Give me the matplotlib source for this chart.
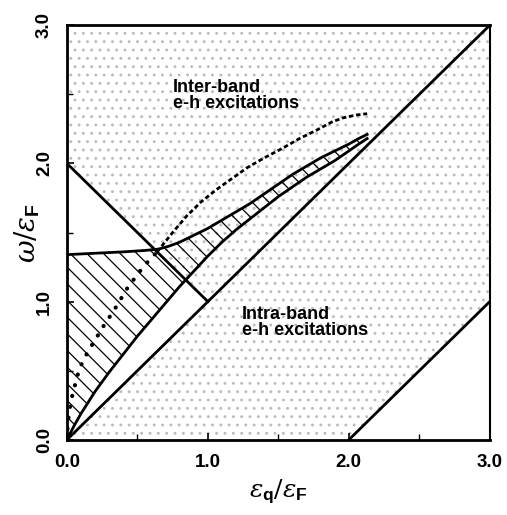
import matplotlib
matplotlib.use("Agg")
import matplotlib.pyplot as plt

plt.rcParams['font.family'] = ['Liberation Sans', 'DejaVu Sans']
plt.rcParams['mathtext.fontset'] = 'custom'
plt.rcParams['mathtext.rm'] = 'DejaVu Serif'
plt.rcParams['mathtext.it'] = 'DejaVu Serif:italic'
plt.rcParams['mathtext.bf'] = 'Liberation Sans:bold'
plt.rcParams['hatch.linewidth'] = 0.9

# ---- data ----
interband_x = [0.0, 0.0, 3.0, 1.0]
interband_y = [2.0, 3.0, 3.0, 1.0]
intraband_x = [0.0, 3.0, 3.0, 2.0]
intraband_y = [0.0, 3.0, 1.0, 0.0]
line_diag_x = [0.0, 3.0]
line_diag_y = [0.0, 3.0]
line_pauli_x = [0.0, 1.0]
line_pauli_y = [2.0, 1.0]
line_shift_x = [2.0, 3.0]
line_shift_y = [0.0, 1.0]

# plasmon band (hatched)
band_upper_x = [0.0, 0.2, 0.4, 0.55, 0.65, 0.72, 0.80, 0.90, 1.00, 1.10, 1.20,
                1.30, 1.40, 1.50, 1.60, 1.70, 1.80, 1.90, 2.00, 2.07, 2.13]
band_upper_y = [1.34, 1.35, 1.36, 1.37, 1.38, 1.40, 1.43, 1.48, 1.53, 1.59, 1.65,
                1.71, 1.78, 1.85, 1.92, 1.98, 2.04, 2.09, 2.14, 2.18, 2.21]
band_lower_x = [0.0, 0.05, 0.10, 0.20, 0.30, 0.40, 0.50, 0.60, 0.70, 0.80, 0.90,
                1.00, 1.10, 1.20, 1.30, 1.40, 1.50, 1.60, 1.70, 1.80, 1.90,
                2.00, 2.07, 2.13]
band_lower_y = [0.0, 0.10, 0.19, 0.35, 0.49, 0.62, 0.75, 0.87, 0.99, 1.11, 1.22,
                1.33, 1.43, 1.52, 1.60, 1.68, 1.76, 1.83, 1.90, 1.96, 2.02,
                2.09, 2.14, 2.18]

# dashed curve
dash_x = [0.0, 0.005, 0.015, 0.04, 0.09, 0.15, 0.21, 0.27, 0.33, 0.43, 0.54, 0.64,
          0.75, 0.85, 0.95, 1.06, 1.17, 1.28, 1.40, 1.53, 1.65, 1.77, 1.88,
          1.96, 2.05, 2.13]
dash_y = [0.0, 0.10, 0.20, 0.33, 0.52, 0.64, 0.74, 0.84, 0.93, 1.10, 1.25, 1.36,
          1.50, 1.62, 1.72, 1.81, 1.89, 1.97, 2.04, 2.11, 2.18, 2.24, 2.30,
          2.33, 2.35, 2.36]
dash_split = 12  # points inside the hatched band are drawn as dots

ticks = [0.0, 1.0, 2.0, 3.0]
tick_labels = ["0.0", "1.0", "2.0", "3.0"]

# ---- figure ----
fig = plt.figure(figsize=(5.07, 5.15), dpi=100)
ax = fig.add_axes([0.132, 0.146, 0.834, 0.805])
ax.set_xlim(0, 3)
ax.set_ylim(0, 3)

stip = '#bcbcbc'
ax.fill(interband_x, interband_y, facecolor='none', edgecolor=stip, hatch='..', linewidth=0)
ax.fill(intraband_x, intraband_y, facecolor='none', edgecolor=stip, hatch='..', linewidth=0)

# hatched band
poly_x = list(band_upper_x) + list(band_lower_x[::-1])
poly_y = list(band_upper_y) + list(band_lower_y[::-1])
ax.fill(poly_x, poly_y, facecolor='none', edgecolor='black', hatch='\\\\', linewidth=0)

lw = 2.0
ax.plot(line_diag_x, line_diag_y, color='black', lw=lw)
ax.plot(line_pauli_x, line_pauli_y, color='black', lw=lw)
ax.plot(line_shift_x, line_shift_y, color='black', lw=lw)
ax.plot(band_upper_x, band_upper_y, color='black', lw=lw)
ax.plot(band_lower_x, band_lower_y, color='black', lw=lw)

ax.plot(dash_x[:dash_split], dash_y[:dash_split], color='black', lw=3.0,
        linestyle=(0, (0.05, 2.6)), dash_capstyle='round', solid_capstyle='round')
ax.plot(dash_x[dash_split - 1:], dash_y[dash_split - 1:], color='black', lw=2.0,
        linestyle=(0, (1.6, 1.0)))

ax.text(0.75, 2.61, "Inter-band\ne-h excitations", fontsize=13, fontweight='bold',
        va='top', ha='left', linespacing=0.92)
ax.text(1.24, 0.97, "Intra-band\ne-h excitations", fontsize=13, fontweight='bold',
        va='top', ha='left', linespacing=0.92)

ax.set_xticks(ticks)
ax.set_xticklabels(tick_labels, fontsize=13.5, fontweight='bold')
ax.set_yticks(ticks)
ax.set_yticklabels(tick_labels, fontsize=13.5, fontweight='bold', rotation=90, va='center')
ax.set_xticks([0.5, 1.5, 2.5], minor=True)
ax.set_yticks([0.5, 1.5, 2.5], minor=True)
ax.tick_params(which='major', direction='in', length=5, width=1.2, pad=10)
ax.tick_params(which='minor', direction='in', length=4, width=1.0)

for s in ['left', 'top', 'bottom']:
    ax.spines[s].set_linewidth(2.0)
ax.spines['right'].set_linewidth(1.5)

ax.set_xlabel(r'$\varepsilon_{\mathbf{q}}/\varepsilon_{\mathbf{F}}$', fontsize=18, labelpad=5)
ax.set_ylabel(r'$\omega/\varepsilon_{\mathbf{F}}$', fontsize=20, labelpad=-4)

fig.savefig("out.png", dpi=100)
